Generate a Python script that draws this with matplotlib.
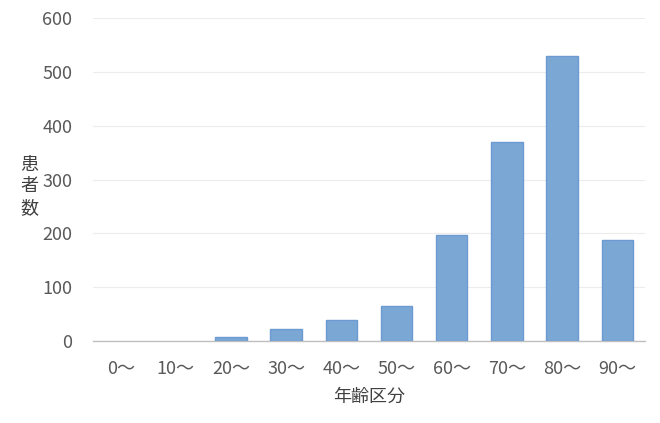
import matplotlib
matplotlib.use("Agg")
import matplotlib.pyplot as plt

plt.rcParams['font.family'] = ['Noto Sans CJK JP', 'DejaVu Sans']

categories = ["0～", "10～", "20～", "30～", "40～", "50～", "60～", "70～", "80～", "90～"]
patients = [0, 0, 8, 22, 39, 65, 197, 370, 530, 188]
yticks = [0, 100, 200, 300, 400, 500, 600]

fig = plt.figure(figsize=(6.6, 4.23), dpi=100)
ax = fig.add_axes([0.141, 0.194, 0.836, 0.763])

x = list(range(len(categories)))
lws = [0.0 if v == 0 else 1.0 for v in patients]
ax.bar(x, patients, width=0.57, color="#7ba7d5", edgecolor="#6b9bd0", linewidth=lws, zorder=3)

ax.set_xlim(-0.5, len(categories) - 0.5)
ax.set_ylim(0, 600)
ax.set_yticks(yticks)
ax.set_xticks(x)
ax.set_xticklabels(categories)
ax.grid(axis='y', color="#ececec", linewidth=0.8, zorder=0)
for s in ['top', 'right', 'left']:
    ax.spines[s].set_visible(False)
ax.spines['bottom'].set_color("#bfbfbf")
ax.spines['bottom'].set_linewidth(1.0)
ax.tick_params(axis='both', length=0, colors="#595959", labelsize=13)
ax.tick_params(axis='y', pad=15)
ax.tick_params(axis='x', pad=14)

ax.set_xlabel("年齢区分", fontsize=13, color="#404040", labelpad=7)
fig.text(0.045, 0.56, "患\n者\n数", fontsize=13, color="#404040", ha='center', va='center', linespacing=1.25)

fig.savefig("out.png", dpi=100, facecolor="white")
